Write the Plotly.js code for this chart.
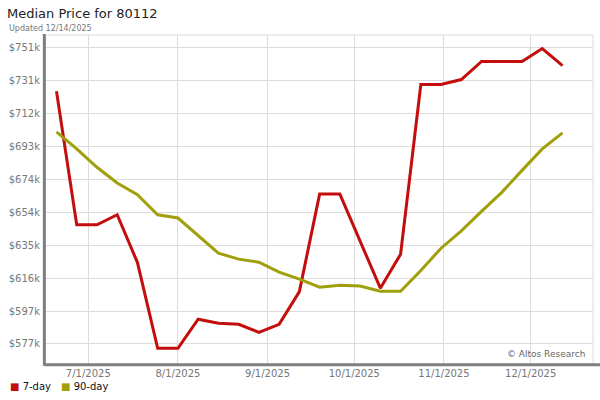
<!DOCTYPE html>
<html>
<head>
<meta charset="utf-8">
<script src="https://cdn.plot.ly/plotly-3.0.1.min.js"></script>
<style>html,body{margin:0;padding:0;background:#fff;}#chart{width:600px;height:400px;}</style>
</head>
<body>
<div id="chart"></div>
<script>
// ---- data ----
const dates = ["2025-06-20","2025-06-27","2025-07-04","2025-07-11","2025-07-18","2025-07-25",
  "2025-08-01","2025-08-08","2025-08-15","2025-08-22","2025-08-29","2025-09-05","2025-09-12",
  "2025-09-19","2025-09-26","2025-10-03","2025-10-10","2025-10-17","2025-10-24","2025-10-31",
  "2025-11-07","2025-11-14","2025-11-21","2025-11-28","2025-12-05","2025-12-12"];
const price7day = [725400,647100,647100,653000,625000,574800,574800,591800,589400,588800,584100,588800,608000,
  665100,665100,637700,610000,629900,729300,729300,732200,742800,742800,742800,750400,740300];
const price90day = [701500,691600,680800,671600,664800,653000,651100,640700,630500,627000,625200,619400,615300,
  610600,611700,611300,608200,608200,620300,633400,643600,655000,666100,679000,691600,701000];
const seriesNames = ["7-day","90-day"];
const seriesColors = ["#c40d0d","#a09f0c"];
const yTickVals = [577300,596580,615860,635140,654420,673700,692980,712260,731540,750820];
const yTickText = ["$577k","$597k","$616k","$635k","$654k","$674k","$693k","$712k","$731k","$751k"];
const xTickVals = ["2025-07-01","2025-08-01","2025-09-01","2025-10-01","2025-11-01","2025-12-01"];
const xTickText = ["7/1/2025","8/1/2025","9/1/2025","10/1/2025","11/1/2025","12/1/2025"];
const chartTitle = "Median Price for 80112";
const subTitle = "Updated 12/14/2025";
const watermark = "\u00A9 Altos Research";

const FONT = "DejaVu Sans, Verdana, sans-serif";

const traces = [
  {x: dates, y: price7day, name: seriesNames[0], type: "scatter", mode: "lines",
   line: {color: seriesColors[0], width: 3}, showlegend: false, hoverinfo: "skip"},
  {x: dates, y: price90day, name: seriesNames[1], type: "scatter", mode: "lines",
   line: {color: seriesColors[1], width: 3}, showlegend: false, hoverinfo: "skip"}
];

const legendAnn = [
  {xref: "paper", yref: "paper", x: -0.07, y: -0.067, xanchor: "left", yanchor: "middle", showarrow: false,
   text: '<span style="color:' + seriesColors[0] + '">\u25A0</span> ' + seriesNames[0],
   font: {family: FONT, size: 10, color: "#111"}},
  {xref: "paper", yref: "paper", x: 0.023, y: -0.067, xanchor: "left", yanchor: "middle", showarrow: false,
   text: '<span style="color:' + seriesColors[1] + '">\u25A0</span> ' + seriesNames[1],
   font: {family: FONT, size: 10, color: "#111"}}
];

const layout = {
  width: 600, height: 400,
  margin: {l: 46, r: 7, t: 35, b: 36, pad: 0},
  paper_bgcolor: "#fff", plot_bgcolor: "#fff",
  font: {family: FONT, size: 10, color: "#777"},
  title: {text: chartTitle, xref: "container", yref: "container", x: 7/600, xanchor: "left",
          y: 1 - 13/400, yanchor: "middle", font: {family: FONT, size: 13, color: "#222"}},
  xaxis: {type: "date", range: ["2025-06-16 09:00", "2025-12-22 13:00"],
          tickvals: xTickVals, ticktext: xTickText, showgrid: true, gridcolor: "#dcdcdc", gridwidth: 1,
          zeroline: false, showline: false, ticks: "", ticklabelstandoff: 2,
          tickfont: {family: FONT, size: 10, color: "#777"}, fixedrange: true},
  yaxis: {range: [565570, 758300], tickvals: yTickVals, ticktext: yTickText,
          showgrid: true, gridcolor: "#dcdcdc", gridwidth: 1, zeroline: false, showline: false, ticks: "",
          ticklabelstandoff: 5,
          tickfont: {family: FONT, size: 10, color: "#777"}, fixedrange: true},
  shapes: [
    {type: "line", xref: "paper", yref: "paper", x0: 0, x1: 1, y0: 1, y1: 1, line: {color: "#dcdcdc", width: 1}},
    {type: "line", xref: "paper", yref: "paper", x0: 1, x1: 1, y0: 0, y1: 1, line: {color: "#dcdcdc", width: 1}},
    {type: "line", xref: "paper", yref: "paper", x0: -0.003, x1: -0.003, y0: -0.005, y1: 1.003, line: {color: "#7f7f7f", width: 3}},
    {type: "line", xref: "paper", yref: "paper", x0: -0.003, x1: 1.02, y0: -0.002, y1: -0.002, line: {color: "#7f7f7f", width: 3}}
  ],
  annotations: [
    {xref: "paper", yref: "paper", x: -0.0713, y: 1.0, xanchor: "left", yanchor: "bottom", showarrow: false,
     text: subTitle, font: {family: FONT, size: 8, color: "#777"}},
    {xref: "paper", yref: "paper", x: 0.989, y: 0.03, xanchor: "right", yanchor: "middle", showarrow: false,
     text: watermark, font: {family: FONT, size: 9, color: "#666"}}
  ].concat(legendAnn),
  showlegend: false
};

Plotly.newPlot("chart", traces, layout, {displayModeBar: false, staticPlot: true});
</script>
</body>
</html>
